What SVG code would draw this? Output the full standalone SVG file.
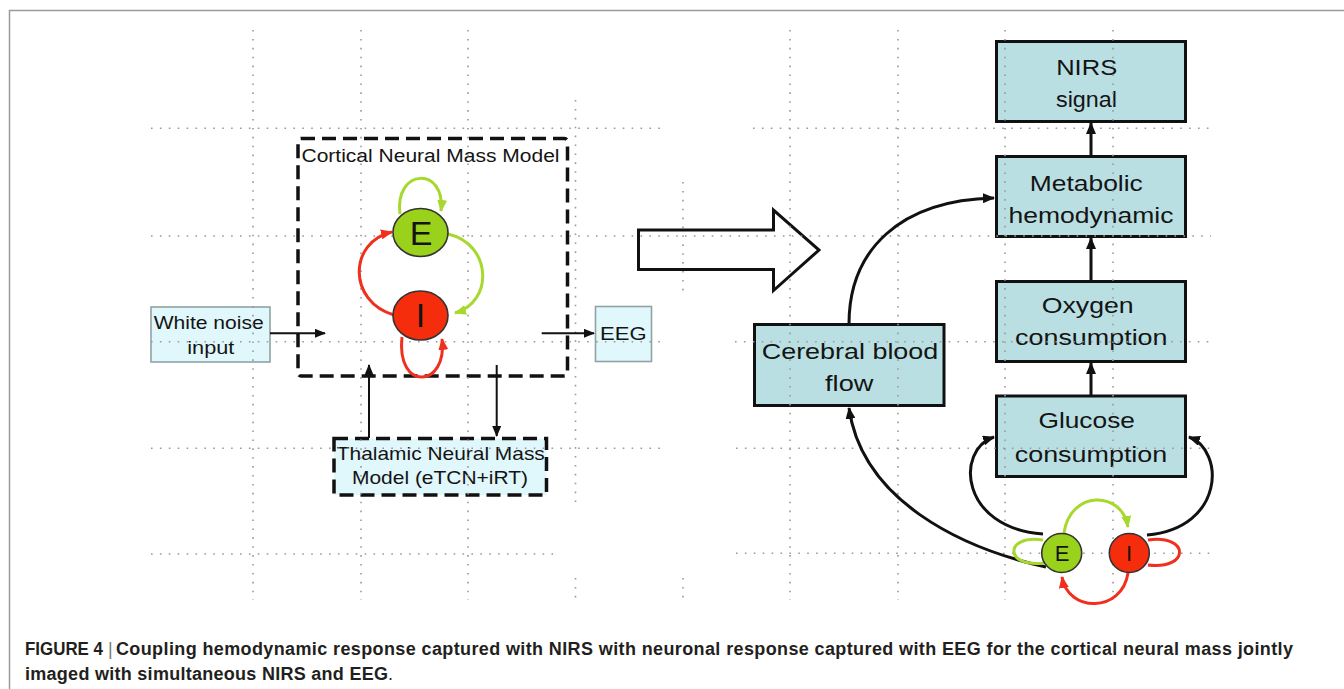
<svg xmlns="http://www.w3.org/2000/svg" width="1344" height="689" viewBox="0 0 1344 689">
<defs>
<style>
.t{font-family:"Liberation Sans",Arial,sans-serif;fill:#141414;text-anchor:middle}
.bt{font-size:22.5px}
.lt{font-size:18.5px}
.cap{font-family:"Liberation Sans",Arial,sans-serif;font-weight:bold;font-size:18px;fill:#231f20}
.box{fill:#b9dfe3;stroke:#111;stroke-width:3}
.lbox{fill:#e0f7fb;stroke:#8fa3a6;stroke-width:1.6}
.dash{stroke:#111;stroke-width:3.5;stroke-dasharray:14 7}
.grid{fill:none;stroke:#9a9a9a;stroke-width:1.6;stroke-dasharray:1.6 7.3}
.k{fill:none;stroke:#111;stroke-width:2}
.kk{fill:none;stroke:#111;stroke-width:3}
.g{fill:none;stroke:#a6d82e;stroke-width:3}
.r{fill:none;stroke:#f0301e;stroke-width:3}
.ce{fill:#9ad11a;stroke:#333;stroke-width:1.6}
.ci{fill:#f52d0c;stroke:#333;stroke-width:1.6}
</style>
<marker id="ak" markerUnits="userSpaceOnUse" markerWidth="11" markerHeight="9" refX="10" refY="4.5" orient="auto"><path d="M0,0 L11,4.5 L0,9 Z" fill="#111"/></marker>
<marker id="akL" markerUnits="userSpaceOnUse" markerWidth="12" markerHeight="10" refX="11" refY="5" orient="auto"><path d="M0,0 L12,5 L0,10 Z" fill="#111"/></marker>
<marker id="ag" markerUnits="userSpaceOnUse" markerWidth="12" markerHeight="10" refX="11" refY="5" orient="auto"><path d="M0,0 L12,5 L0,10 Z" fill="#a6d82e"/></marker>
<marker id="ar" markerUnits="userSpaceOnUse" markerWidth="12" markerHeight="10" refX="11" refY="5" orient="auto"><path d="M0,0 L12,5 L0,10 Z" fill="#f0301e"/></marker>
</defs>
<rect width="1344" height="689" fill="#fff"/>
<path d="M9.5,689 V10.5 H1344" fill="none" stroke="#9a9a9a" stroke-width="1.5"/>

<!-- left diagram nodes -->
<g id="white-noise">
<rect class="lbox" x="151" y="307" width="119" height="55"/>
<text class="t lt" x="208.7" y="328.5" textLength="110" lengthAdjust="spacingAndGlyphs">White noise</text>
<text class="t lt" x="210.8" y="353.5" textLength="47" lengthAdjust="spacingAndGlyphs">input</text>
</g>
<g id="cortical-model">
<rect class="dash" x="298" y="138.5" width="269.5" height="237.5" rx="3" fill="none"/>
<text class="t" style="font-size:18px" x="430.5" y="162" textLength="258" lengthAdjust="spacingAndGlyphs">Cortical Neural Mass Model</text>
</g>
<g id="eeg">
<rect class="lbox" x="595.5" y="306.5" width="56" height="55"/>
<text class="t lt" x="623.3" y="339.5" textLength="46.5" lengthAdjust="spacingAndGlyphs">EEG</text>
</g>
<g id="thalamic-model">
<rect class="dash" x="334" y="438.5" width="212.5" height="56.5" fill="#e0f7fb"/>
<text class="t lt" x="440.8" y="460" textLength="208" lengthAdjust="spacingAndGlyphs">Thalamic Neural Mass</text>
<text class="t lt" x="440" y="484" textLength="176" lengthAdjust="spacingAndGlyphs">Model (eTCN+iRT)</text>
</g>

<!-- right diagram nodes -->
<g id="nirs-signal">
<rect class="box" x="996.5" y="41.5" width="189" height="80"/>
<text class="t bt" x="1086.7" y="75" textLength="61" lengthAdjust="spacingAndGlyphs">NIRS</text>
<text class="t bt" x="1086.5" y="106.5" textLength="61" lengthAdjust="spacingAndGlyphs">signal</text>
</g>
<g id="metabolic-hemodynamic">
<rect class="box" x="996.5" y="156.5" width="189" height="80"/>
<text class="t bt" x="1086.3" y="190.7" textLength="113" lengthAdjust="spacingAndGlyphs">Metabolic</text>
<text class="t bt" x="1091" y="222.7" textLength="165" lengthAdjust="spacingAndGlyphs">hemodynamic</text>
</g>
<g id="oxygen-consumption">
<rect class="box" x="996.5" y="281.5" width="189" height="80"/>
<text class="t bt" x="1087.7" y="313.3" textLength="92" lengthAdjust="spacingAndGlyphs">Oxygen</text>
<text class="t bt" x="1091.3" y="345" textLength="152.5" lengthAdjust="spacingAndGlyphs">consumption</text>
</g>
<g id="glucose-consumption">
<rect class="box" x="996.5" y="396" width="189" height="80.5"/>
<text class="t bt" x="1086.7" y="428.3" textLength="96.5" lengthAdjust="spacingAndGlyphs">Glucose</text>
<text class="t bt" x="1091" y="461.5" textLength="152.5" lengthAdjust="spacingAndGlyphs">consumption</text>
</g>
<g id="cerebral-blood-flow">
<rect class="box" x="754.5" y="324.5" width="189.5" height="81"/>
<text class="t bt" x="850" y="359.3" textLength="176.5" lengthAdjust="spacingAndGlyphs">Cerebral blood</text>
<text class="t bt" x="849.2" y="390.7" textLength="48.3" lengthAdjust="spacingAndGlyphs">flow</text>
</g>
<g id="transition-arrow">
<path d="M638.5,230 H773.5 V210 L819,250 L773.5,290.5 V269.5 H638.5 Z" fill="none" stroke="#111" stroke-width="3" stroke-linejoin="miter"/>
</g>

<!-- dotted grid -->
<g id="grid">
<path class="grid" d="M253,30 V600 M361,30 V600 M468,30 V600 M575.5,100 V502 M575.5,578 V600 M683,182 V297 M683,578 V600 M151,128.3 H666 M151,236 H1211 M151,341.7 H666 M151,448.3 H666 M151,554 H559 M753,128.3 H1211 M735,341.7 H1211 M736,448.3 H1211 M736,553.3 H1211 M790,30 V600 M898,30 V600 M1005,30 V600 M1113,30 V600"/>
</g>

<!-- connectors -->
<g id="connectors">
<path class="k" d="M270,333.3 H325" marker-end="url(#ak)"/>
<path class="k" d="M541.7,333.3 H594" marker-end="url(#ak)"/>
<path class="k" d="M369,438 V365" marker-end="url(#ak)"/>
<path class="k" d="M496.7,365 V436" marker-end="url(#ak)"/>
<path class="g" d="M400,214 C394,168 446,166 441,211" marker-end="url(#ag)"/>
<path class="g" d="M448,234 C492,244 494,302 455,313" marker-end="url(#ag)"/>
<path class="r" d="M394,315 C348,302 348,242 392,232" marker-end="url(#ar)"/>
<path class="r" d="M402,337 C396,392 448,388 442,339" marker-end="url(#ar)"/>

<path class="kk" d="M1091,157 V123" marker-end="url(#akL)"/>
<path class="kk" d="M1091,282 V238" marker-end="url(#akL)"/>
<path class="kk" d="M1091,396 V363" marker-end="url(#akL)"/>
<path class="kk" d="M849,324 C849,250 900,200 994,198" marker-end="url(#akL)"/>
<path class="kk" d="M1046,567 C960,548 862,500 849,408" marker-end="url(#akL)"/>
<path class="kk" d="M1043,534 C960,528 955,450 994,437" marker-end="url(#akL)"/>
<path class="kk" d="M1147,535 C1225,528 1225,450 1189,437" marker-end="url(#akL)"/>
<path class="g" d="M1064,533 C1070,490 1122,490 1128,527" marker-end="url(#ag)"/>
<path class="r" d="M1128,573 C1122,613 1068,613 1062,577" marker-end="url(#ar)"/>
<path class="g" d="M1044,563 C1004,568 1004,534 1043,540"/>
<path class="r" d="M1148,565 C1190,570 1190,534 1148,540"/>
</g>

<!-- population nodes -->
<g id="cortical-E">
<ellipse class="ce" cx="420.5" cy="232.5" rx="27.5" ry="24"/>
<text class="t" style="font-size:34px" x="421" y="245">E</text>
</g>
<g id="cortical-I">
<ellipse class="ci" cx="420.5" cy="315.5" rx="27.5" ry="24.5"/>
<text class="t" style="font-size:34px" x="420.5" y="327">I</text>
</g>
<g id="bottom-E">
<ellipse class="ce" cx="1061.7" cy="553" rx="20" ry="19.5"/>
<text class="t" style="font-size:22px" x="1062" y="561">E</text>
</g>
<g id="bottom-I">
<ellipse class="ci" cx="1129.3" cy="553" rx="20" ry="19.5"/>
<text class="t" style="font-size:22px" x="1129" y="561">I</text>
</g>

<!-- caption -->
<g id="caption">
<text class="cap" x="25" y="655" textLength="78" lengthAdjust="spacingAndGlyphs">FIGURE 4</text>
<text x="108" y="655" style="font-family:'Liberation Sans',Arial,sans-serif;font-size:18px;fill:#777">|</text>
<text class="cap" x="116" y="655" textLength="1177">Coupling hemodynamic response captured with NIRS with neuronal response captured with EEG for the cortical neural mass jointly</text>
<text class="cap" x="25" y="680" textLength="363">imaged with simultaneous NIRS and EEG</text>
<text x="388" y="680" style="font-family:'Liberation Sans',Arial,sans-serif;font-size:18px;fill:#231f20">.</text>
</g>
</svg>
